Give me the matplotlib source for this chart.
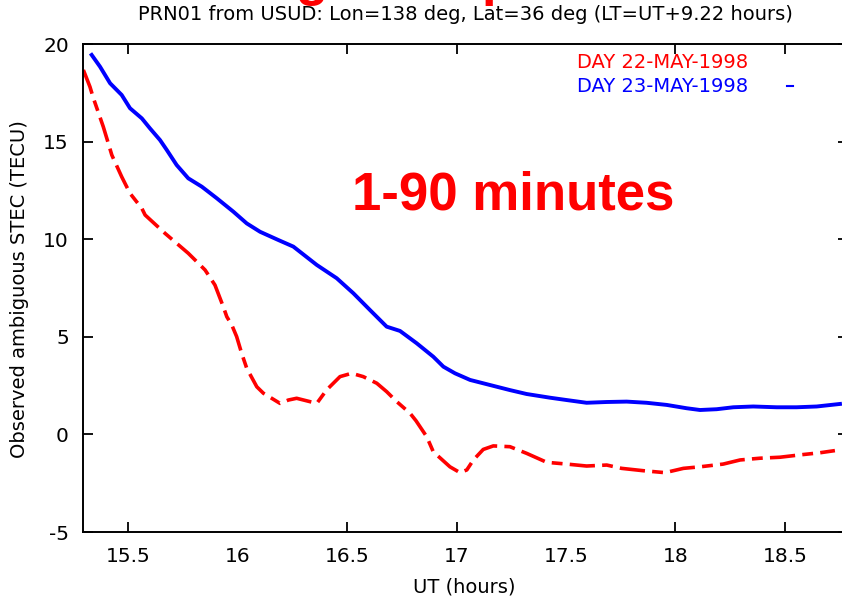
import matplotlib
matplotlib.use("Agg")
import matplotlib.pyplot as plt
from matplotlib.lines import Line2D

plt.rcParams["font.family"] = ["DejaVu Sans"]
plt.rcParams["axes.unicode_minus"] = False

# ---- data ----
ut_23 = [15.334, 15.372, 15.418, 15.471, 15.509, 15.563, 15.600, 15.646, 15.677, 15.722,
         15.775, 15.837, 15.905, 15.981, 16.042, 16.103, 16.186, 16.255, 16.362, 16.453,
         16.529, 16.605, 16.681, 16.742, 16.818, 16.894, 16.940, 16.993, 17.062, 17.153,
         17.244, 17.320, 17.427, 17.503, 17.594, 17.686, 17.777, 17.868, 17.960, 18.051,
         18.112, 18.188, 18.264, 18.355, 18.462, 18.553, 18.645, 18.751]
stec_23 = [19.44, 18.84, 17.99, 17.39, 16.71, 16.19, 15.68, 15.08, 14.57, 13.80,
           13.12, 12.69, 12.10, 11.41, 10.81, 10.38, 9.96, 9.62, 8.68, 8.00,
           7.23, 6.37, 5.52, 5.30, 4.67, 3.98, 3.47, 3.13, 2.79, 2.53,
           2.27, 2.07, 1.88, 1.76, 1.62, 1.66, 1.68, 1.62, 1.51, 1.34,
           1.25, 1.29, 1.39, 1.43, 1.39, 1.39, 1.43, 1.56]

ut_22 = [15.296, 15.311, 15.326, 15.342, 15.387, 15.410, 15.426, 15.471, 15.509, 15.563,
         15.578, 15.669, 15.722, 15.775, 15.829, 15.852, 15.897, 15.935, 15.951, 15.974,
         15.996, 16.019, 16.042, 16.088, 16.118, 16.156, 16.194, 16.232, 16.270, 16.362,
         16.407, 16.468, 16.521, 16.574, 16.636, 16.681, 16.727, 16.788, 16.815, 16.864,
         16.894, 16.970, 17.016, 17.047, 17.077, 17.122, 17.168, 17.244, 17.320, 17.412,
         17.503, 17.594, 17.686, 17.754, 17.853, 17.952, 18.036, 18.112, 18.218, 18.295,
         18.386, 18.477, 18.568, 18.660, 18.728]
stec_22 = [18.67, 18.24, 17.81, 17.22, 15.76, 14.91, 14.31, 13.20, 12.35, 11.58,
           11.24, 10.30, 9.79, 9.28, 8.68, 8.42, 7.65, 6.54, 6.03, 5.60,
           5.01, 4.15, 3.39, 2.44, 2.11, 1.85, 1.59, 1.76, 1.85, 1.59,
           2.28, 2.96, 3.13, 2.96, 2.62, 2.19, 1.68, 1.08, 0.70, -0.12,
           -0.89, -1.66, -1.96, -1.82, -1.31, -0.77, -0.59, -0.63, -0.97, -1.43,
           -1.52, -1.62, -1.57, -1.74, -1.86, -1.96, -1.74, -1.66, -1.52, -1.31,
           -1.22, -1.17, -1.05, -0.94, -0.83]

xticks = [15.5, 16, 16.5, 17, 17.5, 18, 18.5]
xticklabels = ["15.5", "16", "16.5", "17", "17.5", "18", "18.5"]
yticks = [-5, 0, 5, 10, 15, 20]

W, H = 842, 598
fig = plt.figure(figsize=(W / 100, H / 100), dpi=100)
ax = fig.add_axes([82.7 / W, 1 - 532 / H, 765.8 / W, 488 / H])

ax.plot(ut_22, stec_22, color="#ff0000", lw=2.6, dashes=(7, 2, 3, 2))
ax.plot(ut_23, stec_23, color="#0000ff", lw=2.8)

ax.set_xlim(15.293, 18.79)
ax.set_ylim(-5, 20)
ax.set_xticks(xticks)
ax.set_xticklabels(xticklabels)
ax.set_yticks(yticks)
ax.tick_params(direction="in", length=7, width=1.3, top=True, right=True,
               labelsize=14.5, colors="black")
ax.tick_params(axis="x", pad=11)
ax.tick_params(axis="y", pad=10)
for sp in ax.spines.values():
    sp.set_linewidth(1.4)

# ticks at 16 and 17.5 do not show in the original
for t in ax.xaxis.get_major_ticks():
    if t.get_loc() in (16, 17.5):
        t.tick1line.set_visible(False)
        t.tick2line.set_visible(False)

fig.text(465 / W, 1 - 14 / H, "PRN01 from USUD: Lon=138 deg, Lat=36 deg (LT=UT+9.22 hours)",
         ha="center", va="center", fontsize=14)
fig.text(464 / W, 1 - 587 / H, "UT (hours)", ha="center", va="center", fontsize=14)
fig.text(20 / W, 1 - 289 / H, "Observed ambiguous STEC (TECU)", ha="center", va="center",
         rotation=90, fontsize=14)

# key
fig.text(748 / W, 1 - 63 / H, "DAY 22-MAY-1998", ha="right", va="center", fontsize=14, color="#ff0000")
fig.text(748 / W, 1 - 86 / H, "DAY 23-MAY-1998", ha="right", va="center", fontsize=14, color="#0000ff")
fig.add_artist(Line2D([787 / W, 793 / W], [1 - 86 / H, 1 - 86 / H], color="#0000ff", lw=1.5))

# slide annotation
fig.text(352 / W, 1 - 209 / H, "1-90 minutes", ha="left", va="baseline", fontsize=38,
         fontweight="bold", color="#ff0000", family="Liberation Sans")
# bits of the cut-off slide heading
fig.text(296 / W, 1 + 5 / H, "g", ha="left", va="baseline", fontsize=38,
         fontweight="bold", color="#ff0000", family="Liberation Sans")
fig.text(482 / W, 1 + 5 / H, "p", ha="left", va="baseline", fontsize=38,
         fontweight="bold", color="#ff0000", family="Liberation Sans")

fig.savefig("out.png", dpi=100)
